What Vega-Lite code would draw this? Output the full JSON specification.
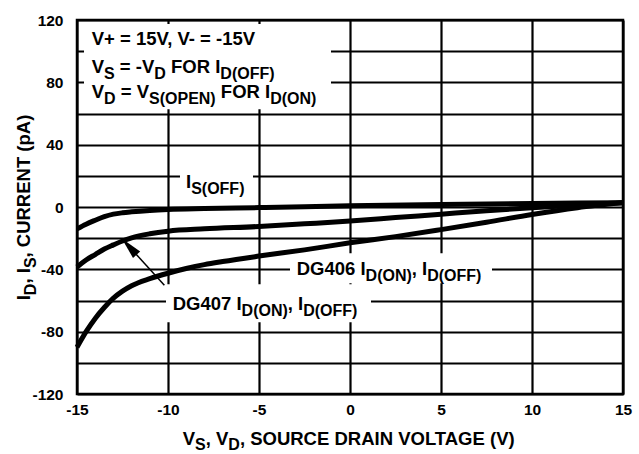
{
  "$schema": "https://vega.github.io/schema/vega-lite/v6.json",
  "width": 546,
  "height": 374,
  "autosize": {"type": "none"},
  "padding": {"left": 77, "top": 20, "right": 16, "bottom": 60},
  "background": "white",
  "config": {
    "view": {"stroke": "black", "strokeWidth": 2.5},
    "font": "Liberation Sans",
    "axis": {
      "labelFont": "Liberation Sans",
      "labelFontWeight": "bold",
      "labelFontSize": 15.5,
      "labelColor": "black",
      "grid": true,
      "gridColor": "black",
      "gridWidth": 2.2,
      "gridOpacity": 1,
      "domain": false,
      "ticks": false,
      "tickSize": 0,
      "labelOverlap": false,
      "labelFlush": false,
      "title": null
    }
  },
  "datasets": {
    "curves": [
      {"s": "IS_OFF", "x": -15, "y": -14}, {"s": "IS_OFF", "x": -14.5, "y": -11}, {"s": "IS_OFF", "x": -14, "y": -8.5},
      {"s": "IS_OFF", "x": -13.5, "y": -6.2}, {"s": "IS_OFF", "x": -13, "y": -4.6}, {"s": "IS_OFF", "x": -12.5, "y": -3.7},
      {"s": "IS_OFF", "x": -12, "y": -3.1}, {"s": "IS_OFF", "x": -11, "y": -2.2}, {"s": "IS_OFF", "x": -10, "y": -1.6},
      {"s": "IS_OFF", "x": -8, "y": -1}, {"s": "IS_OFF", "x": -5, "y": -0.4}, {"s": "IS_OFF", "x": -2.5, "y": 0.2},
      {"s": "IS_OFF", "x": 0, "y": 0.8}, {"s": "IS_OFF", "x": 5, "y": 1.6}, {"s": "IS_OFF", "x": 10, "y": 2.2},
      {"s": "IS_OFF", "x": 15, "y": 2.8},
      {"s": "DG407", "x": -15, "y": -38.5}, {"s": "DG407", "x": -14.5, "y": -34}, {"s": "DG407", "x": -14, "y": -30.5},
      {"s": "DG407", "x": -13.5, "y": -27}, {"s": "DG407", "x": -13, "y": -24.3}, {"s": "DG407", "x": -12.5, "y": -21.8},
      {"s": "DG407", "x": -12, "y": -19.8}, {"s": "DG407", "x": -11, "y": -17.2}, {"s": "DG407", "x": -10, "y": -15.5},
      {"s": "DG407", "x": -8, "y": -14}, {"s": "DG407", "x": -5, "y": -12.5}, {"s": "DG407", "x": -2.5, "y": -10.8},
      {"s": "DG407", "x": 0, "y": -9}, {"s": "DG407", "x": 2.5, "y": -6.8}, {"s": "DG407", "x": 5, "y": -4.6},
      {"s": "DG407", "x": 7.5, "y": -2.4}, {"s": "DG407", "x": 10, "y": -0.5}, {"s": "DG407", "x": 12.5, "y": 1.2},
      {"s": "DG407", "x": 15, "y": 2.8},
      {"s": "DG406", "x": -15, "y": -90}, {"s": "DG406", "x": -14.5, "y": -80}, {"s": "DG406", "x": -14, "y": -71.5},
      {"s": "DG406", "x": -13.5, "y": -64.5}, {"s": "DG406", "x": -13, "y": -58.5}, {"s": "DG406", "x": -12.5, "y": -54},
      {"s": "DG406", "x": -12, "y": -50.5}, {"s": "DG406", "x": -11, "y": -46}, {"s": "DG406", "x": -10, "y": -42.5},
      {"s": "DG406", "x": -9, "y": -39.5}, {"s": "DG406", "x": -8, "y": -37}, {"s": "DG406", "x": -7, "y": -35},
      {"s": "DG406", "x": -5, "y": -31.5}, {"s": "DG406", "x": -2.5, "y": -27.5}, {"s": "DG406", "x": 0, "y": -23},
      {"s": "DG406", "x": 2.5, "y": -19}, {"s": "DG406", "x": 5, "y": -14.5}, {"s": "DG406", "x": 7.5, "y": -9.8},
      {"s": "DG406", "x": 10, "y": -4.8}, {"s": "DG406", "x": 12.5, "y": -0.5}, {"s": "DG406", "x": 15, "y": 2.8}
    ],
    "boxes": [
      {"x": -14.615, "x2": -1.044, "y": 117.4, "y2": 62.8},
      {"x": -9.341, "x2": -5.33, "y": 26.2, "y2": 6.9},
      {"x": -3.297, "x2": 7.802, "y": -29.7, "y2": -48.9},
      {"x": -10.11, "x2": 1.154, "y": -49.6, "y2": -74.0}
    ],
    "arrow": [
      {"x": -10.2, "y": -50.2, "x2": -12.54, "y2": -20.2}
    ],
    "arrowhead": [
      {"x": -12.54, "y": -20.2}
    ],
    "labels": [
      {"sub": 0, "x": -14.192, "y": 103.9, "t": "V+ = 15V, V- = -15V"},
      {"sub": 0, "x": -14.192, "y": 85.9, "t": "V"},
      {"sub": 1, "x": -13.514, "y": 85.9, "t": "S"},
      {"sub": 0, "x": -12.646, "y": 85.9, "t": "= -V"},
      {"sub": 1, "x": -10.753, "y": 85.9, "t": "D"},
      {"sub": 0, "x": -9.836, "y": 85.9, "t": "FOR I"},
      {"sub": 1, "x": -7.125, "y": 85.9, "t": "D(OFF)"},
      {"sub": 0, "x": -14.192, "y": 70.2, "t": "V"},
      {"sub": 1, "x": -13.514, "y": 70.2, "t": "D"},
      {"sub": 0, "x": -12.597, "y": 70.2, "t": "= V"},
      {"sub": 1, "x": -11.043, "y": 70.2, "t": "S(OPEN)"},
      {"sub": 0, "x": -7.097, "y": 70.2, "t": "FOR I"},
      {"sub": 1, "x": -4.386, "y": 70.2, "t": "D(ON)"},
      {"sub": 0, "x": -9.011, "y": 11.9, "t": "I"},
      {"sub": 1, "x": -8.728, "y": 11.9, "t": "S(OFF)"},
      {"sub": 0, "x": -2.929, "y": -43.8, "t": "DG406 I"},
      {"sub": 1, "x": 0.857, "y": -43.8, "t": "D(ON)"},
      {"sub": 0, "x": 3.396, "y": -43.8, "t": ", I"},
      {"sub": 1, "x": 4.242, "y": -43.8, "t": "D(OFF)"},
      {"sub": 0, "x": -9.742, "y": -65.8, "t": "DG407 I"},
      {"sub": 1, "x": -5.956, "y": -65.8, "t": "D(ON)"},
      {"sub": 0, "x": -3.418, "y": -65.8, "t": ", I"},
      {"sub": 1, "x": -2.57, "y": -65.8, "t": "D(OFF)"}
    ],
    "xtitle": [
      {"sub": 0, "x": -9.192, "y": -153.0, "t": "V"},
      {"sub": 1, "x": -8.514, "y": -153.0, "t": "S"},
      {"sub": 0, "x": -7.928, "y": -153.0, "t": ", V"},
      {"sub": 1, "x": -6.685, "y": -153.0, "t": "D"},
      {"sub": 0, "x": -6.05, "y": -153.0, "t": ", SOURCE DRAIN VOLTAGE (V)"}
    ],
    "ytitle": [
      {"sub": 0, "x": -17.58, "y": -59.9, "t": "I"},
      {"sub": 1, "x": -17.58, "y": -56.6, "t": "D"},
      {"sub": 0, "x": -17.58, "y": -49.1, "t": ", I"},
      {"sub": 1, "x": -17.58, "y": -39.2, "t": "S"},
      {"sub": 0, "x": -17.58, "y": -32.4, "t": ", CURRENT (pA)"}
    ]
  },
  "encoding": {
    "x": {
      "field": "x", "type": "quantitative",
      "scale": {"domain": [-15, 15], "nice": false, "zero": false},
      "axis": {"values": [-15, -10, -5, 0, 5, 10, 15], "labelExpr": "'' + datum.value", "labelPadding": 8}
    },
    "y": {
      "field": "y", "type": "quantitative",
      "scale": {"domain": [-120, 120], "nice": false, "zero": false},
      "axis": {
        "values": [-120, -100, -80, -60, -40, -20, 0, 20, 40, 60, 80, 100, 120],
        "labelExpr": "datum.value % 40 == 0 ? '' + datum.value : ''",
        "labelPadding": 14
      }
    }
  },
  "layer": [
    {
      "data": {"name": "boxes"},
      "mark": {"type": "rect", "color": "white", "opacity": 1},
      "encoding": {"x2": {"field": "x2"}, "y2": {"field": "y2"}}
    },
    {
      "data": {"name": "curves"},
      "mark": {"type": "line", "color": "black", "strokeWidth": 5, "interpolate": "monotone"},
      "encoding": {"detail": {"field": "s", "type": "nominal"}}
    },
    {
      "data": {"name": "arrow"},
      "mark": {"type": "rule", "color": "black", "strokeWidth": 1.5},
      "encoding": {"x2": {"field": "x2"}, "y2": {"field": "y2"}}
    },
    {
      "data": {"name": "arrowhead"},
      "mark": {"type": "point", "shape": "M0,0L-0.22,1L0.22,1Z", "filled": true, "color": "black", "opacity": 1, "size": 1936, "angle": 317.6, "strokeWidth": 0}
    },
    {
      "data": {"name": "labels"},
      "transform": [{"filter": "datum.sub == 0"}],
      "mark": {"type": "text", "align": "left", "baseline": "alphabetic", "font": "Liberation Sans", "fontWeight": "bold", "fontSize": 18.5, "color": "black"},
      "encoding": {"text": {"field": "t"}}
    },
    {
      "data": {"name": "labels"},
      "transform": [{"filter": "datum.sub == 1"}],
      "mark": {"type": "text", "align": "left", "baseline": "alphabetic", "font": "Liberation Sans", "fontWeight": "bold", "fontSize": 16, "dy": 6, "color": "black"},
      "encoding": {"text": {"field": "t"}}
    },
    {
      "data": {"name": "xtitle"},
      "transform": [{"filter": "datum.sub == 0"}],
      "mark": {"type": "text", "align": "left", "baseline": "alphabetic", "font": "Liberation Sans", "fontWeight": "bold", "fontSize": 18.5, "color": "black"},
      "encoding": {"text": {"field": "t"}}
    },
    {
      "data": {"name": "xtitle"},
      "transform": [{"filter": "datum.sub == 1"}],
      "mark": {"type": "text", "align": "left", "baseline": "alphabetic", "font": "Liberation Sans", "fontWeight": "bold", "fontSize": 16, "dy": 4.5, "color": "black"},
      "encoding": {"text": {"field": "t"}}
    },
    {
      "data": {"name": "ytitle"},
      "transform": [{"filter": "datum.sub == 0"}],
      "mark": {"type": "text", "align": "left", "baseline": "alphabetic", "angle": 270, "font": "Liberation Sans", "fontWeight": "bold", "fontSize": 18.5, "color": "black"},
      "encoding": {"text": {"field": "t"}}
    },
    {
      "data": {"name": "ytitle"},
      "transform": [{"filter": "datum.sub == 1"}],
      "mark": {"type": "text", "align": "left", "baseline": "alphabetic", "angle": 270, "font": "Liberation Sans", "fontWeight": "bold", "fontSize": 16, "dy": 6, "color": "black"},
      "encoding": {"text": {"field": "t"}}
    }
  ]
}
